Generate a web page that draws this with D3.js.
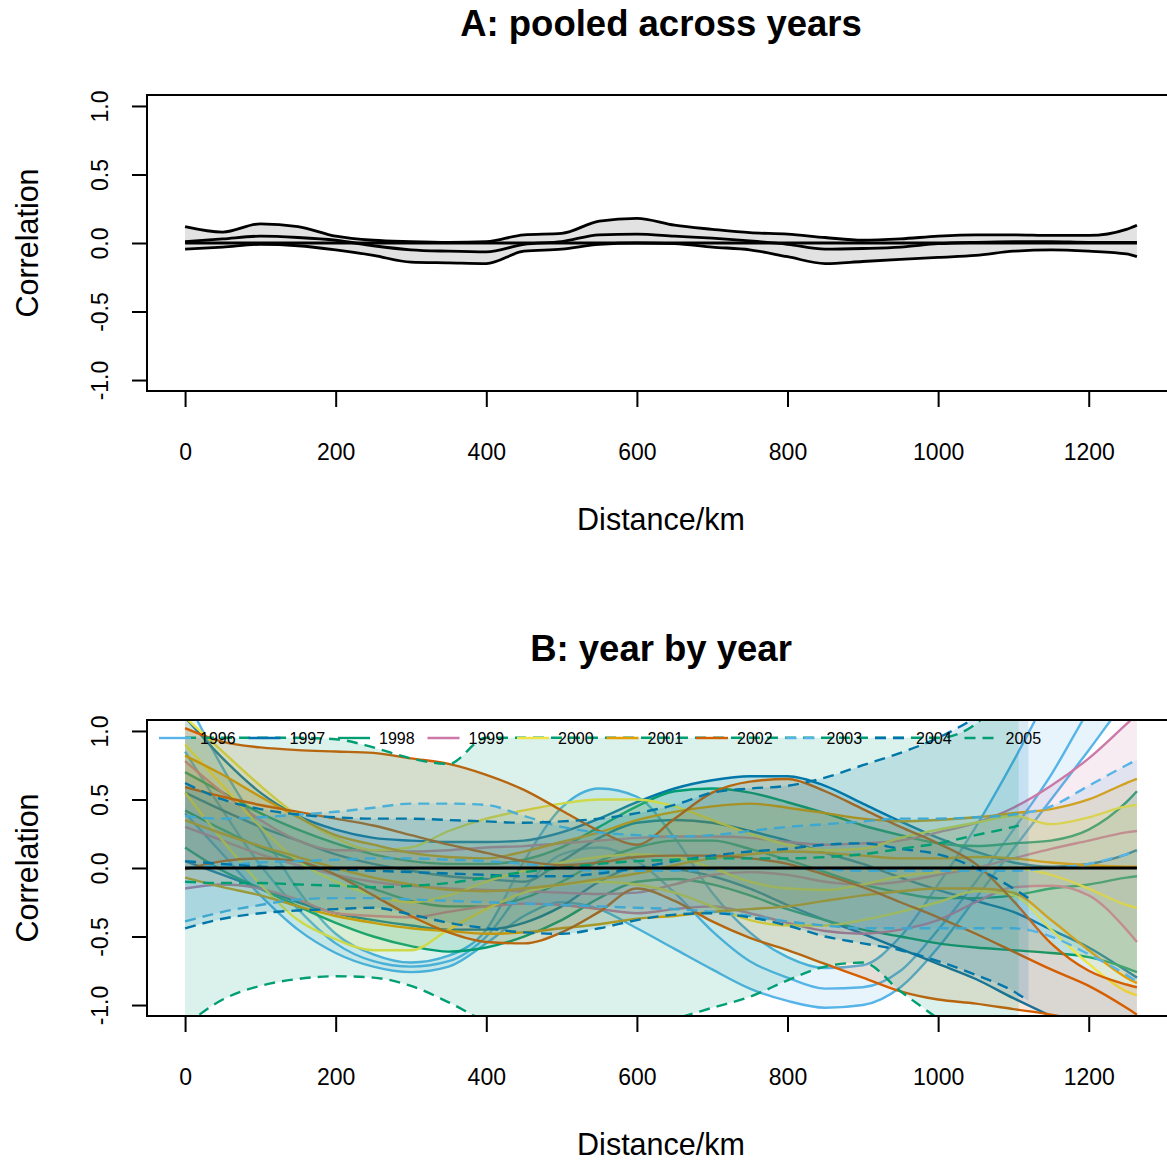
<!DOCTYPE html>
<html>
<head>
<meta charset="utf-8">
<script src="https://cdn.jsdelivr.net/npm/d3@7"></script>
<style>
  body { margin: 0; background: #fff; }
  text { font-family: "Liberation Sans", Arial, Helvetica, sans-serif; fill: #000; }
</style>
</head>
<body>
<svg id="chart"></svg>
<script>
const width = 1167,
      height = 1160;

// distance grid (km); the last entry of each series sits at that year's last distance
const kmGrid = [0, 50, 100, 150, 200, 250, 300, 350, 400, 450, 500, 550, 600, 650,
                700, 750, 800, 850, 900, 950, 1000, 1050, 1100, 1150, 1200, 1250, 1264];

// panel A: pooled correlogram
const pooledUpper = [0.12, 0.08, 0.14, 0.12, 0.05, 0.02, 0.01, 0.005, 0.01, 0.06, 0.07, 0.16, 0.18, 0.13,
                     0.10, 0.075, 0.065, 0.04, 0.02, 0.03, 0.05, 0.06, 0.06, 0.055, 0.055, 0.10, 0.13];
const pooledMean  = [0.01, 0.03, 0.05, 0.04, 0.02, -0.02, -0.05, -0.06, -0.065, -0.01, 0.01, 0.06, 0.065, 0.05,
                     0.035, 0.015, -0.01, -0.045, -0.04, -0.03, -0.005, 0.005, 0.01, 0.01, 0.005, 0.005, 0.005];
const pooledLower = [-0.045, -0.03, -0.01, -0.02, -0.05, -0.09, -0.14, -0.145, -0.15, -0.06, -0.045, -0.01, 0.0, -0.005,
                     -0.03, -0.05, -0.10, -0.15, -0.135, -0.12, -0.105, -0.09, -0.06, -0.05, -0.06, -0.08, -0.10];

// panel B: year by year
const years = ["1996", "1997", "1998", "1999", "2000", "2001", "2002", "2003", "2004", "2005"];
const yearColors = ["#56B4E9", "#0072B2", "#009E73", "#CC79A7", "#F0E442", "#E69F00", "#D55E00",
                    "#56B4E9", "#0072B2", "#009E73"];
const yearDashed = [false, false, false, false, false, false, false, true, true, true];
const lastKm = [1264, 1264, 1264, 1264, 1264, 1264, 1264, 1264, 1120, 1107];

const yearUpper = [
  [1.25, 0.73, 0.28, -0.16, -0.48, -0.63, -0.69, -0.64, -0.45, 0.05, 0.44, 0.58, 0.52, 0.22, -0.18, -0.47, -0.65, -0.73, -0.71, -0.5, -0.12, 0.3, 0.78, 1.3, 1.8, 2.3, 2.4],
  [1.1, 0.8, 0.55, 0.38, 0.28, 0.22, 0.2, 0.19, 0.19, 0.2, 0.26, 0.36, 0.48, 0.58, 0.64, 0.67, 0.67, 0.6, 0.47, 0.34, 0.22, 0.12, 0.04, 0.01, 0.03, 0.1, 0.13],
  [0.7, 0.55, 0.4, 0.28, 0.18, 0.1, 0.05, 0.03, 0.03, 0.06, 0.15, 0.3, 0.45, 0.56, 0.58, 0.55, 0.48, 0.4, 0.31, 0.24, 0.18, 0.16, 0.18, 0.2, 0.28, 0.48, 0.56],
  [0.78, 0.55, 0.35, 0.2, 0.13, 0.13, 0.12, 0.13, 0.15, 0.16, 0.18, 0.2, 0.22, 0.23, 0.23, 0.22, 0.19, 0.17, 0.18, 0.2, 0.26, 0.33, 0.44, 0.6, 0.8, 1.05, 1.12],
  [1.1, 0.85, 0.6, 0.38, 0.22, 0.13, 0.15, 0.27, 0.36, 0.42, 0.47, 0.5, 0.5, 0.45, 0.35, 0.25, 0.17, 0.13, 0.14, 0.22, 0.28, 0.33, 0.38, 0.32, 0.37, 0.45, 0.46],
  [0.82, 0.68, 0.52, 0.37, 0.24, 0.17, 0.11, 0.08, 0.07, 0.12, 0.19, 0.26, 0.35, 0.41, 0.45, 0.47, 0.44, 0.4, 0.36, 0.34, 0.35, 0.37, 0.4, 0.43, 0.5, 0.62, 0.65],
  [1.02, 0.92, 0.88, 0.86, 0.85, 0.84, 0.8, 0.76, 0.68, 0.57, 0.42, 0.27, 0.17, 0.36, 0.55, 0.63, 0.65, 0.56, 0.43, 0.3, 0.18, 0.03, -0.24, -0.55, -0.75, -0.85, -0.87],
  [0.38, 0.36, 0.37, 0.39, 0.41, 0.44, 0.47, 0.47, 0.46, 0.38, 0.3, 0.26, 0.24, 0.23, 0.24, 0.27, 0.3, 0.32, 0.34, 0.36, 0.36, 0.37, 0.39, 0.45, 0.6, 0.75, 0.79],
  [0.62, 0.5, 0.43, 0.39, 0.37, 0.36, 0.36, 0.35, 0.34, 0.33, 0.34, 0.36, 0.4, 0.46, 0.55, 0.58, 0.6, 0.66, 0.75, 0.84, 0.95, 1.1, 1.3, 1.38],
  [0.95, 0.95, 0.95, 0.95, 0.94, 0.88, 0.8, 0.76, 0.95, 0.95, 0.95, 0.95, 0.95, 0.95, 0.95, 0.95, 0.95, 0.95, 0.95, 0.95, 0.95, 1.05, 1.4, 1.45]
];
const yearMean = [
  [0.85, 0.42, 0.02, -0.3, -0.55, -0.68, -0.72, -0.68, -0.5, -0.15, 0.1, 0.15, 0.05, -0.18, -0.46, -0.68, -0.8, -0.88, -0.87, -0.75, -0.45, -0.1, 0.28, 0.68, 1.15, 1.55, 1.65],
  [0.55, 0.42, 0.3, 0.2, 0.1, 0.03, -0.02, -0.06, -0.08, -0.1, 0.05, 0.22, 0.33, 0.35, 0.33, 0.27, 0.2, 0.11, 0.03, -0.07, -0.16, -0.24, -0.32, -0.45, -0.58, -0.75, -0.8],
  [0.42, 0.28, 0.15, 0.05, -0.05, -0.15, -0.24, -0.28, -0.28, -0.22, -0.1, 0.05, 0.15, 0.2, 0.2, 0.14, 0.06, -0.03, -0.12, -0.18, -0.22, -0.22, -0.2, -0.15, -0.12, -0.07, -0.06],
  [0.3, 0.2, 0.1, 0.02, -0.05, -0.1, -0.13, -0.15, -0.16, -0.17, -0.18, -0.19, -0.18, -0.12, -0.05, -0.03, -0.05, -0.1, -0.12, -0.1, -0.05, 0.0, 0.07, 0.14, 0.2, 0.26, 0.27],
  [0.9, 0.6, 0.3, 0.05, -0.1, -0.2, -0.25, -0.2, -0.1, -0.02, 0.04, 0.08, 0.1, 0.08, 0.0, -0.1, -0.15, -0.16, -0.12, -0.06, -0.03, 0.0, 0.0, -0.05, -0.15, -0.27, -0.29],
  [0.35, 0.25, 0.16, 0.08, 0.0, -0.07, -0.12, -0.16, -0.17, -0.15, -0.12, -0.08, -0.04, 0.02, 0.07, 0.1, 0.12, 0.11, 0.09, 0.07, 0.07, 0.08, 0.07, 0.04, 0.02, 0.01, 0.01],
  [0.59, 0.52, 0.46, 0.41, 0.36, 0.31, 0.24, 0.17, 0.11, 0.05, 0.02, 0.04, 0.08, 0.09, 0.09, 0.07, 0.03, -0.05, -0.14, -0.25, -0.36, -0.48, -0.61, -0.74, -0.86, -1.02, -1.07],
  [0.0, 0.02, 0.04, 0.05, 0.06, 0.07, 0.07, 0.06, 0.05, 0.03, 0.0, -0.02, -0.02, -0.02, -0.01, 0.0, 0.0, -0.01, -0.02, -0.02, -0.02, -0.02, -0.02, 0.0, 0.03, 0.1, 0.12],
  [0.05, 0.03, 0.01, 0.0, -0.01, -0.02, -0.03, -0.04, -0.05, -0.06, -0.06, -0.04, 0.0, 0.05, 0.09, 0.12, 0.14, 0.17, 0.18, 0.14, 0.1, 0.0, -0.15, -0.22],
  [-0.1, -0.11, -0.11, -0.12, -0.13, -0.14, -0.13, -0.11, -0.07, -0.03, 0.0, 0.03, 0.05, 0.06, 0.07, 0.07, 0.07, 0.08, 0.1, 0.14, 0.18, 0.24, 0.3, 0.31]
];
const yearLower = [
  [0.4, 0.1, -0.2, -0.45, -0.62, -0.72, -0.76, -0.72, -0.55, -0.35, -0.25, -0.3, -0.44, -0.59, -0.74, -0.88, -0.97, -1.02, -1.0, -0.87, -0.58, -0.22, 0.14, 0.5, 0.86, 1.22, 1.3],
  [0.05, -0.05, -0.15, -0.25, -0.33, -0.38, -0.42, -0.45, -0.45, -0.4, -0.28, -0.1, 0.0, -0.01, -0.06, -0.15, -0.27, -0.38, -0.48, -0.59, -0.7, -0.81, -0.95, -1.08, -1.2, -1.3, -1.33],
  [0.15, -0.02, -0.15, -0.28, -0.4, -0.5, -0.57, -0.61, -0.58, -0.5, -0.38, -0.22, -0.1, -0.08, -0.12, -0.2, -0.3, -0.38, -0.45, -0.5, -0.55, -0.58, -0.6, -0.62, -0.65, -0.73, -0.76],
  [-0.15, -0.12, -0.15, -0.23, -0.33, -0.35, -0.36, -0.32, -0.28, -0.26, -0.27, -0.3, -0.33, -0.3, -0.28, -0.33, -0.4, -0.46, -0.48, -0.45, -0.38, -0.25, -0.14, -0.13, -0.2, -0.45, -0.54],
  [0.55, 0.2, -0.12, -0.38, -0.52, -0.6, -0.6, -0.45, -0.3, -0.18, -0.12, -0.1, -0.12, -0.18, -0.28, -0.38, -0.42, -0.42, -0.38, -0.32, -0.25, -0.17, -0.2, -0.45, -0.7, -0.9, -0.93],
  [-0.07, -0.14, -0.2, -0.28, -0.35, -0.4, -0.44, -0.46, -0.48, -0.47, -0.44, -0.41, -0.37, -0.35, -0.32, -0.3, -0.28, -0.24, -0.2, -0.17, -0.15, -0.15, -0.18, -0.38, -0.6, -0.8, -0.84],
  [-0.01, 0.05, 0.07, 0.05, -0.05, -0.2, -0.35, -0.47, -0.54, -0.55, -0.47, -0.32, -0.15, -0.24, -0.39, -0.51, -0.6, -0.7, -0.8, -0.9, -0.96, -0.99, -1.03, -1.07, -1.12, -1.15, -1.16],
  [-0.39, -0.32, -0.27, -0.23, -0.22, -0.22, -0.23, -0.24, -0.25, -0.26, -0.27, -0.28, -0.29, -0.3, -0.32, -0.35, -0.39, -0.42, -0.44, -0.44, -0.44, -0.44, -0.44, -0.5, -0.63, -0.78, -0.83],
  [-0.44, -0.37, -0.33, -0.31, -0.3, -0.29, -0.34, -0.4, -0.44, -0.47, -0.48, -0.44, -0.38, -0.34, -0.33, -0.36, -0.42, -0.5, -0.55, -0.6, -0.68, -0.78, -0.9, -0.97],
  [-1.15, -0.96, -0.86, -0.81, -0.79, -0.8, -0.86, -0.98, -1.12, -1.2, -1.25, -1.22, -1.16, -1.1, -1.02, -0.94, -0.82, -0.72, -0.69, -0.9, -1.1, -1.3, -1.5, -1.52]
];

const xTicks = [0, 200, 400, 600, 800, 1000, 1200];
const yTicks = [-1, -0.5, 0, 0.5, 1];

const svg = d3.select("#chart")
  .attr("width", width)
  .attr("height", height);

// R style: axes extended 4% beyond data range
const maxKm = d3.max(lastKm);
const x = d3.scaleLinear()
  .domain([-0.04 * maxKm, 1.04 * maxKm])
  .range([147, 1175]);

const boxH = 296;

function rows(vals, end) {
  return vals.map((v, i) => ({ km: i < vals.length - 1 ? kmGrid[i] : end, v: v }));
}

function drawPanel(top, title, id) {
  const bottom = top + boxH;
  const y = d3.scaleLinear().domain([-1.08, 1.08]).range([bottom, top]);
  const g = svg.append("g");

  svg.append("clipPath").attr("id", id)
    .append("rect")
    .attr("x", x.range()[0]).attr("y", top)
    .attr("width", x.range()[1] - x.range()[0]).attr("height", boxH);

  const plot = g.append("g").attr("clip-path", `url(#${id})`);

  // axes
  const xAxis = g.append("g")
    .attr("transform", `translate(0,${bottom})`)
    .call(d3.axisBottom(x).tickValues(xTicks).tickSize(16).tickPadding(37).tickFormat(d => String(d)));
  xAxis.select(".domain").remove();
  xAxis.selectAll("line").attr("stroke", "#000").attr("stroke-width", 2);
  xAxis.selectAll("text").attr("font-size", 23).attr("font-family", "Liberation Sans, Arial, sans-serif");

  const yAxis = g.append("g")
    .attr("transform", `translate(${x.range()[0]},0)`)
    .call(d3.axisLeft(y).tickValues(yTicks).tickSize(15).tickFormat(d => d.toFixed(1)));
  yAxis.select(".domain").remove();
  yAxis.selectAll("line").attr("stroke", "#000").attr("stroke-width", 2);
  yAxis.selectAll("text")
    .attr("x", null).attr("dy", null).attr("y", 0)
    .attr("text-anchor", "middle")
    .attr("transform", "translate(-39,0) rotate(-90)")
    .attr("font-size", 23)
    .attr("font-family", "Liberation Sans, Arial, sans-serif");

  // box
  g.append("rect")
    .attr("x", x.range()[0]).attr("y", top)
    .attr("width", x.range()[1] - x.range()[0]).attr("height", boxH)
    .attr("fill", "none").attr("stroke", "#000").attr("stroke-width", 2);

  // titles
  const cx = (x.range()[0] + x.range()[1]) / 2;
  g.append("text")
    .attr("x", cx).attr("y", top - 59)
    .attr("text-anchor", "middle")
    .attr("font-size", 36.5).attr("font-weight", "bold")
    .text(title);
  g.append("text")
    .attr("x", cx).attr("y", bottom + 139)
    .attr("text-anchor", "middle")
    .attr("font-size", 30.5)
    .text("Distance/km");
  g.append("text")
    .attr("transform", `translate(38,${(top + bottom) / 2}) rotate(-90)`)
    .attr("text-anchor", "middle")
    .attr("font-size", 30.5)
    .text("Correlation");

  return { plot, y };
}

// ---- panel A ----
{
  const { plot, y } = drawPanel(95, "A: pooled across years", "clipA");
  const band = kmGrid.map((km, i) => ({ km, lo: pooledLower[i], hi: pooledUpper[i] }));
  plot.append("path")
    .datum(band)
    .attr("fill", "#e2e2e2")
    .attr("d", d3.area().x(d => x(d.km)).y0(d => y(d.lo)).y1(d => y(d.hi)).curve(d3.curveMonotoneX));

  const line = d3.line().x(d => x(d.km)).y(d => y(d.v)).curve(d3.curveMonotoneX);
  [pooledUpper, pooledLower, pooledMean].forEach(s => {
    plot.append("path")
      .datum(rows(s, maxKm))
      .attr("fill", "none").attr("stroke", "#000").attr("stroke-width", 2.8)
      .attr("d", line);
  });
  plot.append("line")
    .attr("x1", x(0)).attr("x2", x(maxKm))
    .attr("y1", y(0)).attr("y2", y(0))
    .attr("stroke", "#000").attr("stroke-width", 2.8);
}

// ---- panel B ----
{
  const { plot, y } = drawPanel(720, "B: year by year", "clipB");
  const line = d3.line().x(d => x(d.km)).y(d => y(d.v)).curve(d3.curveMonotoneX);
  const area = d3.area().x(d => x(d.km)).y0(d => y(d.lo)).y1(d => y(d.hi)).curve(d3.curveMonotoneX);

  years.forEach((yr, k) => {
    const lo = rows(yearLower[k], lastKm[k]);
    const hi = rows(yearUpper[k], lastKm[k]);
    const band = lo.map((d, i) => ({ km: d.km, lo: d.v, hi: hi[i].v }));
    plot.append("path")
      .datum(band)
      .attr("fill", yearColors[k]).attr("fill-opacity", 0.14)
      .attr("d", area);

    [yearUpper[k], yearMean[k], yearLower[k]].forEach(s => {
      plot.append("path")
        .datum(rows(s, lastKm[k]))
        .attr("fill", "none")
        .attr("stroke", yearColors[k])
        .attr("stroke-width", 2.4)
        .attr("stroke-dasharray", yearDashed[k] ? "11,7" : null)
        .attr("d", line);
    });
  });

  plot.append("line")
    .attr("x1", x(0)).attr("x2", x(maxKm))
    .attr("y1", y(0)).attr("y2", y(0))
    .attr("stroke", "#000").attr("stroke-width", 2.8);

  // legend across the top, no box
  const legend = svg.append("g");
  const legY = 738;
  years.forEach((yr, k) => {
    const tx = 200 + 89.5 * k;
    legend.append("line")
      .attr("x1", tx - 41).attr("x2", tx - 9)
      .attr("y1", legY).attr("y2", legY)
      .attr("stroke", yearColors[k]).attr("stroke-width", 2.4)
      .attr("stroke-dasharray", yearDashed[k] ? "11,7" : null);
    legend.append("text")
      .attr("x", tx).attr("y", legY + 6)
      .attr("font-size", 16)
      .text(yr);
  });
}
</script>
</body>
</html>
